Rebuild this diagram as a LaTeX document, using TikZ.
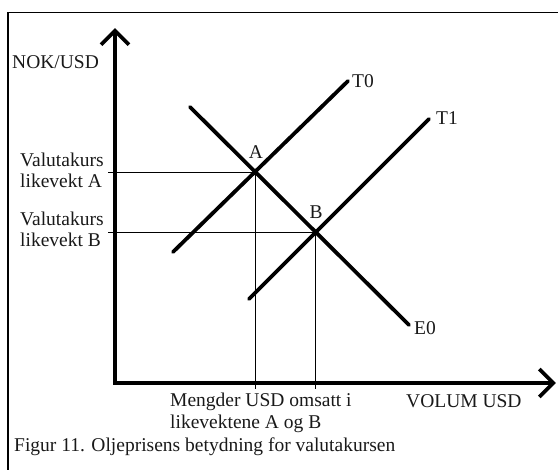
\documentclass[tikz,border=0pt]{standalone}
\usepackage{fontspec}
\setmainfont{Liberation Serif}
\usetikzlibrary{arrows.meta}
\begin{document}
\begin{tikzpicture}[x=1bp,y=-1bp,
  axis/.style={line width=3.8bp, line join=miter, {Straight Barb[length=14bp,width=28bp,line width=3.8bp]}-{Straight Barb[length=14bp,width=28bp,line width=3.8bp]}},
  curve/.style={line width=3.8bp, line cap=round},
  guide/.style={line width=0.8bp},
  lbl/.style={inner sep=0pt, font=\fontsize{19.5bp}{21.5bp}\selectfont, text=black!90},
  framel/.style={line width=1.3bp}]
\useasboundingbox (0,0) rectangle (558,470);
% frame
\coordinate (F1) at (8,470);
\coordinate (F2) at (8,12.5);
\coordinate (F3) at (558,12.5);
\draw[framel] (F1) -- (F2) -- (F3);
% axes
\coordinate (Ytop) at (115,28);
\coordinate (O) at (115,383);
\coordinate (Xend) at (556,383);
\draw[axis] (Ytop) -- (O) -- (Xend);
% equilibrium points
\coordinate (A) at (255,172);
\coordinate (B) at (315,232);
% curves
\coordinate (T0s) at (173,252);
\coordinate (T0e) at (348,81);
\coordinate (T1s) at (249,299);
\coordinate (T1e) at (429,119);
\coordinate (E0s) at (190,107);
\coordinate (E0e) at (409,325);
% guide lines
\coordinate (Ay) at (108,172);
\coordinate (By) at (108,232);
\coordinate (Ax) at (255,389);
\coordinate (Bx) at (315,389);
\draw[guide] (Ay) -- (A) -- (Ax);
\draw[guide] (By) -- (B) -- (Bx);
\draw[curve] (T0s) -- (T0e);
\draw[curve] (T1s) -- (T1e);
\draw[curve] (E0s) -- (E0e);
% labels
\node[lbl, anchor=west] (ylab) at (12,62) {NOK/USD};
\node[lbl, anchor=west, align=left] (vA) at (20,170.5) {Valutakurs\\likevekt A};
\node[lbl, anchor=west, align=left] (vB) at (20,229.5) {Valutakurs\\likevekt B};
\node[lbl] (Alab) at (256,152) {A};
\node[lbl] (Blab) at (316,212) {B};
\node[lbl, anchor=west] (T0lab) at (352,81) {T0};
\node[lbl, anchor=west] (T1lab) at (436,118) {T1};
\node[lbl, anchor=west] (E0lab) at (414,328) {E0};
\node[lbl, anchor=west, align=left] (mlab) at (170,413) {Mengder USD omsatt i\\likevektene A og B};
\node[lbl, anchor=west] (xlab) at (406,401) {VOLUM USD};
\node[lbl, anchor=west] (cap) at (14,447) {Figur 11. Oljeprisens betydning for valutakursen};
\end{tikzpicture}
\end{document}
